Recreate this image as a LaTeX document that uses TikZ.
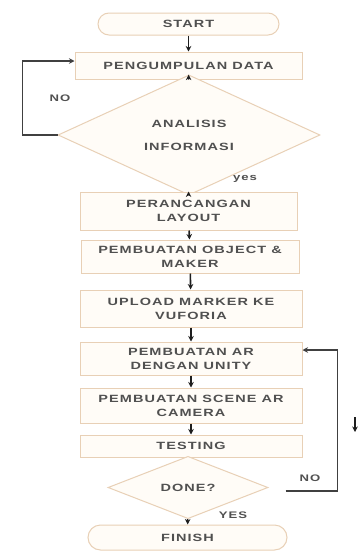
\documentclass[tikz,border=0pt]{standalone}
\usepackage{fontspec}
\setmainfont{Liberation Sans}[FakeStretch=1.38,LetterSpace=10]
\usetikzlibrary{shapes.geometric,arrows.meta}
\definecolor{edge}{RGB}{232,208,182}
\definecolor{boxfill}{RGB}{255,252,247}
\definecolor{txt}{RGB}{80,80,80}
\definecolor{conncol}{RGB}{30,30,30}
\begin{document}
\begin{tikzpicture}[x=1pt,y=-1pt,
  every node/.style={font=\bfseries\fontsize{10.5}{14}\selectfont, text=txt},
  procbox/.style={draw=edge, fill=boxfill, line width=1pt, rectangle, align=center, inner sep=0pt},
  termbox/.style={draw=edge, fill=boxfill, line width=1pt, rectangle, rounded corners=11pt, align=center, inner sep=0pt},
  decbox/.style={draw=edge, fill=boxfill, line width=1pt, diamond, align=center, inner sep=0pt},
  conn/.style={draw=conncol, line width=1.6pt, -{Stealth[length=5.5pt,width=5.5pt]}},
  loopline/.style={draw=conncol!85, line width=1.4pt, -{Stealth[length=5.5pt,width=5.5pt]}},
  lbl/.style={font=\bfseries\fontsize{9.5}{10}\selectfont, text=txt}]
\useasboundingbox (0,0) rectangle (357,552);
\fill[white] (0,0) rectangle (357,552);

\node[termbox, minimum width=181pt, minimum height=22pt] (st) at (188.5,24) {START};
\node[procbox, minimum width=227pt, minimum height=27pt] (pd) at (188.5,65.5) {PENGUMPULAN DATA};
\node[decbox, minimum width=262pt, minimum height=76pt] (an) at (189,135) {ANALISIS\\[9pt]INFORMASI};
\node[procbox, minimum width=217pt, minimum height=38pt] (pl) at (188.5,211) {PERANCANGAN\\LAYOUT};
\node[procbox, minimum width=218pt, minimum height=33pt] (po) at (190,256.5) {PEMBUATAN OBJECT \&\\MAKER};
\node[procbox, minimum width=222pt, minimum height=37pt] (pu) at (191,308.5) {UPLOAD MARKER KE\\VUFORIA};
\node[procbox, minimum width=222pt, minimum height=33pt] (pa) at (191,358.5) {PEMBUATAN AR\\DENGAN UNITY};
\node[procbox, minimum width=222pt, minimum height=35pt] (ps) at (191,405.5) {PEMBUATAN SCENE AR\\CAMERA};
\node[procbox, minimum width=222pt, minimum height=22pt] (te) at (191,446) {TESTING};
\node[decbox, minimum width=160pt, minimum height=35pt] (dn) at (188,487.5) {DONE?};
\node[termbox, minimum width=199pt, minimum height=25pt, rounded corners=12.5pt] (fi) at (187.5,537.5) {FINISH};

\draw[conn] (st) -- (pd);
\draw[conn] (pd) -- (an);
\draw[conn] (an) -- (pl);
\draw[conn] (pl) -- (po);
\draw[conn] (po) -- (pu);
\draw[conn] (pu) -- (pa);
\draw[conn] (pa) -- (ps);
\draw[conn] (ps) -- (te);
\draw[conn] (dn) -- (fi);

\draw[loopline] (an.west) -- ++(-35,0) |- ([yshift=4.5pt]pd.west);
\draw[loopline] ([xshift=17pt,yshift=-3.5pt]dn.east) -- ++(52,0) |- ([yshift=8.5pt]pa.east);

\coordinate (sa) at (355,417);
\coordinate (sb) at (355,432);
\draw[conn, line width=1.3pt] (sa) -- (sb);

\node[lbl] (lno1) at (60,98) {NO};
\node[lbl] (lyes) at (245,179) {yes};
\node[lbl] (lno2) at (310,478) {NO};
\node[lbl] (lyes2) at (233,515) {YES};
\end{tikzpicture}
\end{document}
